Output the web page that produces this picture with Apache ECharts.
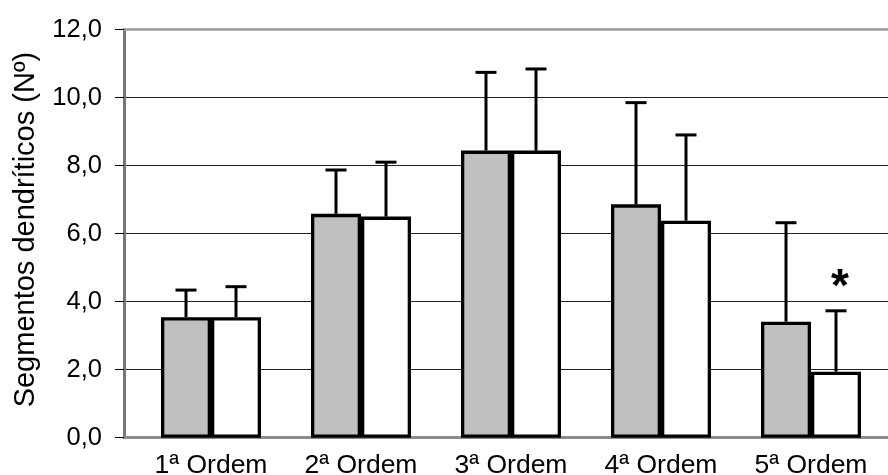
<!DOCTYPE html>
<html>
<head>
<meta charset="utf-8">
<script src="https://cdn.jsdelivr.net/npm/echarts@6/dist/echarts.min.js"></script>
<style>
html,body{margin:0;padding:0;background:#fff;}
#chart{width:888px;height:475px;}
</style>
</head>
<body>
<div id="chart"></div>
<script>
const categories = ['1ª Ordem', '2ª Ordem', '3ª Ordem', '4ª Ordem', '5ª Ordem'];
const greyMean = [3.54, 6.58, 8.44, 6.86, 3.41];
const greySD = [0.80, 1.29, 2.30, 2.99, 2.91];
const whiteMean = [3.54, 6.50, 8.44, 6.38, 1.94];
const whiteSD = [0.90, 1.60, 2.40, 2.52, 1.79];
const significance = ['', '', '', '', '*'];
const yTickLabels = ['0,0', '2,0', '4,0', '6,0', '8,0', '10,0', '12,0'];
const yTitle = 'Segmentos dendríticos (Nº)';

const FONT = '"Liberation Sans", Arial, sans-serif';
const GAP = 1 / 3;

const chart = echarts.init(document.getElementById('chart'), null, {renderer: 'canvas'});

function errorSeries(name, means, sds, side, sig) {
  return {
    name: name,
    type: 'custom',
    xAxisIndex: 2,
    yAxisIndex: 1,
    z: 5,
    data: means.map((m, i) => [i, m, sds[i]]),
    renderItem: function (params, api) {
      const idx = api.value(0);
      const m = api.value(1);
      const s = api.value(2);
      const band = api.size([1, 0])[0];
      const bw = band * (1 - GAP) / 2;
      const off = side * bw / 2;
      const p0 = api.coord([idx, m]);
      const p1 = api.coord([idx, m + s]);
      const x = p0[0] + off;
      const capHalf = 10.5;
      const children = [
        {type: 'line', shape: {x1: x, y1: p0[1], x2: x, y2: p1[1]}, style: {stroke: '#000', lineWidth: 3}},
        {type: 'line', shape: {x1: x - capHalf, y1: p1[1], x2: x + capHalf, y2: p1[1]}, style: {stroke: '#000', lineWidth: 3}}
      ];
      const t = sig ? sig[params.dataIndex] : '';
      if (t) {
        children.push({
          type: 'text',
          style: {
            text: t, x: x + 4, y: p1[1] - 23,
            fill: '#000', font: 'bold 46px ' + FONT,
            align: 'center', verticalAlign: 'middle'
          }
        });
      }
      return {type: 'group', children: children};
    }
  };
}

const option = {
  animation: false,
  backgroundColor: '#fff',
  grid: [
    {left: 124, right: 0, top: 29.5, bottom: 37.3, containLabel: false, outerBoundsMode: 'none'},
    {left: 136, width: 750, top: 29.5, bottom: 37.3, containLabel: false, outerBoundsMode: 'none'}
  ],
  xAxis: [
    {gridIndex: 0, type: 'value', min: 0, max: 1, position: 'bottom',
      axisLine: {show: true, lineStyle: {color: '#8c8c8c', width: 3}},
      axisTick: {show: false}, axisLabel: {show: false}, splitLine: {show: false}},
    {gridIndex: 0, type: 'value', min: 0, max: 1, position: 'top',
      axisLine: {show: true, lineStyle: {color: '#999', width: 2.5}},
      axisTick: {show: false}, axisLabel: {show: false}, splitLine: {show: false}},
    {gridIndex: 1, type: 'category', data: categories,
      axisLine: {show: false}, axisTick: {show: false},
      axisLabel: {color: '#000', fontFamily: FONT, fontSize: 26.5, margin: 14}}
  ],
  yAxis: [
    {gridIndex: 0, type: 'value', min: 0, max: 12, interval: 2,
      name: yTitle, nameLocation: 'middle', nameRotate: 90, nameGap: 84,
      nameTextStyle: {color: '#000', fontFamily: FONT, fontSize: 29, padding: [0, 0, 0, 8]},
      axisLine: {show: true, lineStyle: {color: '#777', width: 3}},
      axisTick: {show: true, length: 9, lineStyle: {color: '#000', width: 1}},
      axisLabel: {color: '#000', fontFamily: FONT, fontSize: 25.5, margin: 22,
        formatter: (v) => yTickLabels[Math.round(v / 2)]},
      splitLine: {show: true, showMinLine: false, showMaxLine: false, lineStyle: {color: '#222', width: 1}}},
    {gridIndex: 1, type: 'value', min: 0, max: 12, interval: 2, show: false}
  ],
  series: [
    {name: 'grey', type: 'bar', xAxisIndex: 2, yAxisIndex: 1, data: greyMean,
      barGap: '0%', barCategoryGap: '33.33%',
      itemStyle: {color: '#c0c0c0', borderColor: '#000', borderWidth: 3.3}},
    {name: 'white', type: 'bar', xAxisIndex: 2, yAxisIndex: 1, data: whiteMean,
      barGap: '0%', barCategoryGap: '33.33%',
      itemStyle: {color: '#ffffff', borderColor: '#000', borderWidth: 3.3}},
    errorSeries('greyErr', greyMean, greySD, -1, null),
    errorSeries('whiteErr', whiteMean, whiteSD, 1, significance)
  ]
};
chart.setOption(option);
</script>
</body>
</html>
